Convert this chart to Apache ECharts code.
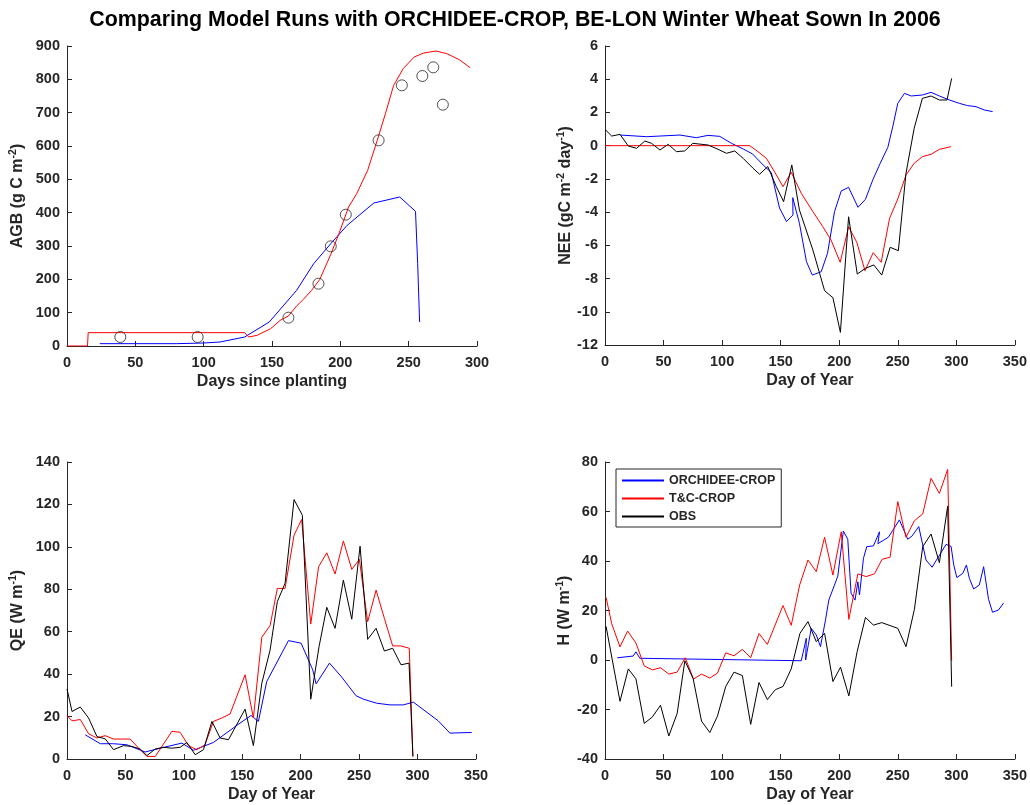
<!DOCTYPE html>
<html>
<head>
<meta charset="utf-8">
<script src="https://cdn.jsdelivr.net/npm/echarts@6/dist/echarts.min.js"></script>
<style>
html,body{margin:0;padding:0;background:#fff;}
#chart{width:1030px;height:805px;}
</style>
</head>
<body>
<div id="chart"></div>
<script>
const chartTitle = 'Comparing Model Runs with ORCHIDEE-CROP, BE-LON Winter Wheat Sown In 2006';
const seriesNames = ['ORCHIDEE-CROP', 'T&C-CROP', 'OBS'];

// ---- Panel 1: AGB vs days since planting ----
const agbOrchDay = [24, 50, 80, 100, 112, 130, 148, 168, 180.5, 193, 205, 224.5, 243.5, 255, 256.6, 258];
const agbOrchVal = [7, 7, 7, 9, 12, 27, 72, 167, 247, 307, 362, 429, 447, 404, 247, 72];
const agbTcDay = [0, 15, 15.5, 130, 133, 139, 149, 156, 162, 168, 173, 179, 185, 193, 199, 206, 212, 220, 227, 233, 239, 246, 254, 261, 270, 278, 287, 295];
const agbTcVal = [0, 0, 40, 40, 27, 32, 52, 77, 90, 120, 140, 167, 200, 275, 337, 417, 457, 527, 617, 697, 782, 832, 867, 879, 885, 877, 859, 835];
const agbObsDay = [39, 95.6, 162, 184, 193, 204, 228, 245, 260, 268, 275];
const agbObsVal = [27, 27, 85, 187, 299, 394, 617, 782, 810, 836, 724];

// ---- Panel 2: NEE vs day of year ----
const neeOrchDay = [13, 35.5, 64, 78, 88, 98, 108, 118, 126, 135, 142, 149, 155, 160.5, 160.3, 166, 172, 177, 184.6, 190, 196, 201.7, 208, 216, 222.4, 228.6, 235, 241.5, 245.7, 250, 255.7, 261.4, 271, 278.4, 285.5, 294, 302.5, 309.6, 316.8, 323.8, 331];
const neeOrchVal = [0.64, 0.54, 0.64, 0.48, 0.62, 0.56, 0.14, -0.2, -0.5, -1.16, -1.62, -3.75, -4.57, -4.17, -3.13, -4.67, -6.98, -7.79, -7.59, -6.48, -3.97, -2.73, -2.51, -3.71, -3.23, -2.07, -1.06, -0.1, 1.14, 2.55, 3.15, 2.99, 3.05, 3.21, 2.99, 2.75, 2.55, 2.41, 2.35, 2.15, 2.05];
const neeTcDay = [0, 123.6, 130.6, 137.8, 145, 152, 159, 167.6, 177.5, 186, 193, 200.8, 208, 215, 222, 229, 235.8, 243, 250, 257, 264, 271, 278.4, 285.5, 295.5];
const neeTcVal = [0, 0, -0.36, -0.76, -1.6, -2.47, -1.6, -2.87, -3.97, -4.88, -5.68, -7.02, -4.88, -5.82, -7.53, -6.44, -7.02, -4.37, -3.21, -1.77, -1.06, -0.66, -0.52, -0.22, -0.06];
const neeObsDay = [0, 5.7, 12.8, 19.9, 27, 34, 39.8, 46.9, 54, 61, 68, 75, 88, 96.6, 103.7, 110.8, 117.9, 126.4, 132, 139, 146.3, 152.5, 159.5, 166, 177.5, 187.5, 194.6, 201, 208, 215.4, 222.4, 229.5, 236.3, 243.5, 250.5, 257, 264, 271, 278.4, 285.5, 292, 296];
const neeObsVal = [0.98, 0.58, 0.68, -0.02, -0.16, 0.28, 0.14, -0.26, 0.08, -0.36, -0.32, 0.14, 0.04, -0.22, -0.46, -0.32, -0.76, -1.36, -1.72, -1.26, -2.47, -3.37, -1.16, -3.87, -6.28, -8.73, -9.15, -11.24, -4.28, -7.73, -7.38, -7.18, -7.79, -6.12, -6.32, -1.66, 1.05, 2.85, 2.99, 2.75, 2.75, 4.05];

// ---- Panel 3: QE vs day of year ----
const qeOrchDay = [15.6, 28.5, 39.8, 51.3, 66.9, 79.8, 98.3, 108.2, 125.3, 148, 157.5, 163.8, 170.9, 189.5, 200.3, 210.3, 213.2, 224.6, 235.1, 247.4, 253.7, 265, 276.4, 287.8, 296.4, 317.7, 327.7, 346.3];
const qeOrchVal = [11.4, 7.2, 7.2, 6.7, 3.3, 5.1, 7.5, 4.1, 7.8, 16.9, 20.5, 17.7, 36.5, 55.8, 54.6, 42, 35.4, 45.2, 38.6, 29.8, 28.2, 26.3, 25.5, 25.5, 26.8, 18, 12.2, 12.5];
const qeTcDay = [0, 4.3, 11.4, 18.5, 25.6, 32.7, 39.8, 54, 61.2, 68.4, 75.5, 89.7, 96.8, 103.9, 111, 118, 125.3, 132.4, 139.5, 152.4, 159.5, 166.7, 173.8, 180, 186.6, 194.3, 200.8, 208.6, 215.3, 222.3, 229.4, 236.5, 243.7, 250.2, 257.3, 264.5, 271.6, 278.7, 285.8, 292.9, 296];
const qeTcVal = [20.4, 18, 18.6, 11.9, 9.9, 11, 9.4, 9.4, 5.2, 1.2, 1.2, 13, 12.6, 6.3, 4.4, 6.6, 17.7, 19.3, 21.2, 39.7, 19.3, 57.4, 62.9, 80.4, 80.4, 105.5, 112.9, 63.6, 90.6, 97.2, 87.2, 102.8, 89.4, 94.1, 64.7, 79.6, 66.3, 53.3, 53.3, 52.2, 1.2];
const qeObsDay = [0, 4.3, 11.4, 18.5, 25.6, 32.7, 39.8, 48.4, 55.5, 62.6, 68.4, 75.5, 82.6, 89.7, 96.8, 102.6, 109.7, 116.8, 124, 131, 138.2, 152.4, 159.5, 166.7, 173.8, 180, 186.6, 194.3, 201.4, 208.6, 215.7, 222.3, 229.4, 236.5, 243.7, 250.8, 257.3, 264.5, 271.6, 278.7, 285.8, 292.7, 296];
const qeObsVal = [33, 22.4, 24.5, 19.3, 10.6, 9.5, 4.4, 6.3, 5.9, 4.7, 1.6, 4.7, 5.5, 5.1, 5.5, 7.8, 2, 4.4, 17.7, 9.9, 9.1, 23.5, 6.3, 35.7, 51.4, 74.2, 82.8, 122.3, 114.9, 28.2, 53, 71.5, 61.6, 84.3, 65.9, 100.3, 56.4, 61.6, 50.9, 52.2, 44.4, 45.2, 1.2];

// ---- Panel 4: H vs day of year ----
const hOrchDay = [10.5, 24.1, 26.4, 29.8, 167.6, 171.9, 171.3, 176.1, 180.4, 184, 188.3, 191.1, 198.8, 203.5, 207.3, 210.1, 213.5, 215.9, 217.3, 220.7, 223.5, 229.2, 234.4, 233, 242, 251.4, 258.5, 262, 267.9, 274.1, 279.3, 291.2, 295.5, 297.8, 300.4, 305.5, 308.6, 311.1, 314.8, 319.6, 323.3, 327.5, 330.9, 336, 340.3];
const hOrchVal = [0.9, 1.6, 3.3, 0.7, -0.3, 8.8, 0, 12.8, 10.1, 5.4, 16.2, 24.2, 33.9, 52.1, 48.8, 27, 24.2, 31.6, 26.3, 41.1, 45.8, 46.1, 51.8, 47, 49.6, 56.6, 48.8, 50, 53.9, 40.4, 37.5, 46.7, 45.9, 38.4, 33.3, 35, 38.4, 33, 28.7, 30.3, 37.7, 24.5, 19.3, 20.2, 23];
const hTcDay = [0.9, 5.7, 12.8, 19.3, 26.4, 33.5, 40.6, 47.4, 54.5, 61.6, 68.5, 75.6, 82.4, 89.5, 96, 103.1, 110.2, 117.3, 124.4, 131.5, 138.6, 152, 159, 166.2, 173.3, 180.4, 187.5, 194.6, 201.7, 208.2, 215.9, 223, 230.1, 236.6, 243.4, 250, 257, 264.2, 271.3, 278.4, 285.5, 292.6, 296];
const hTcVal = [25.3, 14.7, 5.3, 11.7, 6.9, -2.4, -4, -3.1, -5.7, -4.9, 0.9, -7.7, -5.7, -7.3, -5.3, 2.9, 1.7, 4.3, 0.9, 10.7, 6.3, 22, 14, 30.3, 40.4, 35.7, 49.6, 34.3, 51.8, 16.4, 34.8, 33.7, 34.8, 40.7, 41.5, 64, 49.6, 56.3, 59, 73.4, 67.3, 77, -0.3];
const hObsDay = [0.9, 12.8, 19.9, 26.4, 33.5, 40.3, 47.4, 54.5, 61.6, 68.2, 75.3, 82.4, 89.5, 96, 103.1, 110.2, 117.3, 124.4, 131.5, 138.6, 145.4, 152, 159, 166.5, 173.3, 180.4, 187.5, 194.6, 201.1, 208.2, 215.3, 222.4, 229.2, 236.3, 250, 257, 264.2, 271.3, 278.4, 285.5, 292.6, 296];
const hObsVal = [13.6, -16.7, -3.6, -7.6, -25.6, -23.1, -18.3, -30.7, -21.6, -0.3, -7.6, -24.7, -29.3, -22.7, -10.7, -4.9, -6.3, -26, -9.1, -16, -12, -10.7, -3.6, 10.8, 15.5, 7.4, 10.8, -8.7, -2.9, -14.5, 3.4, 17.2, 14.1, 15.1, 12.8, 5.4, 20.5, 45.8, 50.9, 39.3, 62.2, -10.8];

// ---- Axis tick settings ----
const agbXTicks = {min: 0, max: 300, interval: 50};
const doyXTicks = {min: 0, max: 350, interval: 50};
const agbYTicks = {min: 0, max: 900, interval: 100};
const neeYTicks = {min: -12, max: 6, interval: 2};
const qeYTicks = {min: 0, max: 140, interval: 20};
const hYTicks = {min: -40, max: 80, interval: 20};

const zip = (a, b) => a.map((v, i) => [v, b[i]]);

const FONT = "'Liberation Sans', Arial, sans-serif";
const TXT = '#262626';
const colors = {orch: '#0000ff', tc: '#ff0000', obs: '#000000'};

const grids = [
  {left: 67, top: 46, width: 410, height: 300},
  {left: 605, top: 46, width: 411, height: 299},
  {left: 67, top: 462, width: 409, height: 297},
  {left: 605, top: 462, width: 411, height: 297}
];

function xAx(idx, ticks, name) {
  return Object.assign({
    type: 'value', gridIndex: idx, name: name, nameLocation: 'middle', nameGap: 28,
    nameTextStyle: {fontFamily: FONT, fontWeight: 'bold', fontSize: 16, color: TXT},
    axisLine: {show: true, onZero: false, lineStyle: {color: TXT, width: 1}},
    axisTick: {show: true, inside: true, length: 5, lineStyle: {color: TXT}},
    axisLabel: {fontFamily: FONT, fontWeight: 'bold', fontSize: 14.5, color: TXT, margin: 9},
    splitLine: {show: false}
  }, ticks);
}
const richSup = {
  sup: {fontFamily: FONT, fontWeight: 'bold', fontSize: 10.5, color: TXT, verticalAlign: 'top', lineHeight: 19},
  b: {fontFamily: FONT, fontWeight: 'bold', fontSize: 16, color: TXT, lineHeight: 19}
};
function yAx(idx, ticks, name, gap) {
  return Object.assign({
    type: 'value', gridIndex: idx, name: name, nameLocation: 'middle', nameGap: gap,
    nameTextStyle: {fontFamily: FONT, fontWeight: 'bold', fontSize: 16, color: TXT, rich: richSup},
    axisLine: {show: true, onZero: false, lineStyle: {color: TXT, width: 1}},
    axisTick: {show: true, inside: true, length: 5, lineStyle: {color: TXT}},
    axisLabel: {fontFamily: FONT, fontWeight: 'bold', fontSize: 14.5, color: TXT, margin: 7},
    splitLine: {show: false}
  }, ticks);
}
function lineS(name, idx, data, color) {
  return {
    type: 'line', name: name, xAxisIndex: idx, yAxisIndex: idx, data: data,
    symbol: 'none', showSymbol: false, smooth: false,
    lineStyle: {color: color, width: 1}, itemStyle: {color: 'rgba(0,0,0,0)', borderWidth: 0}, z: 3
  };
}

const option = {
  animation: false,
  backgroundColor: '#ffffff',
  title: {
    text: chartTitle, left: 'center', top: 5,
    textStyle: {fontFamily: FONT, fontWeight: 'bold', fontSize: 21.4, color: '#000'}
  },
  legend: {
    data: seriesNames, orient: 'vertical', left: 616, top: 469,
    itemWidth: 42, itemHeight: 12, itemGap: 5,
    padding: [5, 6, 4, 5],
    borderColor: TXT, borderWidth: 1, backgroundColor: '#fff',
    itemStyle: {opacity: 0},
    textStyle: {fontFamily: FONT, fontWeight: 'bold', fontSize: 12.5, color: TXT}
  },
  grid: grids,
  xAxis: [
    xAx(0, agbXTicks, 'Days since planting'),
    xAx(1, doyXTicks, 'Day of Year'),
    xAx(2, doyXTicks, 'Day of Year'),
    xAx(3, doyXTicks, 'Day of Year')
  ],
  yAxis: [
    yAx(0, agbYTicks, '{b|AGB (g C m}{sup|-2}{b|)}', 40),
    yAx(1, neeYTicks, '{b|NEE (gC m}{sup|-2}{b| day}{sup|-1}{b|)}', 29),
    yAx(2, qeYTicks, '{b|QE (W m}{sup|-1}{b|)}', 40),
    yAx(3, hYTicks, '{b|H (W m}{sup|-1}{b|)}', 31)
  ],
  series: [
    lineS('ORCHIDEE-CROP', 0, zip(agbOrchDay, agbOrchVal), colors.orch),
    lineS('T&C-CROP', 0, zip(agbTcDay, agbTcVal), colors.tc),
    {
      type: 'scatter', name: 'AGB obs', xAxisIndex: 0, yAxisIndex: 0,
      data: zip(agbObsDay, agbObsVal), symbol: 'circle', symbolSize: 11,
      itemStyle: {color: 'rgba(0,0,0,0)', borderColor: '#262626', borderWidth: 1}, z: 4
    },
    lineS('ORCHIDEE-CROP', 1, zip(neeOrchDay, neeOrchVal), colors.orch),
    lineS('T&C-CROP', 1, zip(neeTcDay, neeTcVal), colors.tc),
    lineS('OBS', 1, zip(neeObsDay, neeObsVal), colors.obs),
    lineS('ORCHIDEE-CROP', 2, zip(qeOrchDay, qeOrchVal), colors.orch),
    lineS('T&C-CROP', 2, zip(qeTcDay, qeTcVal), colors.tc),
    lineS('OBS', 2, zip(qeObsDay, qeObsVal), colors.obs),
    lineS('ORCHIDEE-CROP', 3, zip(hOrchDay, hOrchVal), colors.orch),
    lineS('T&C-CROP', 3, zip(hTcDay, hTcVal), colors.tc),
    lineS('OBS', 3, zip(hObsDay, hObsVal), colors.obs)
  ]
};

const chart = echarts.init(document.getElementById('chart'), null, {renderer: 'canvas'});
chart.setOption(option);
</script>
</body>
</html>
